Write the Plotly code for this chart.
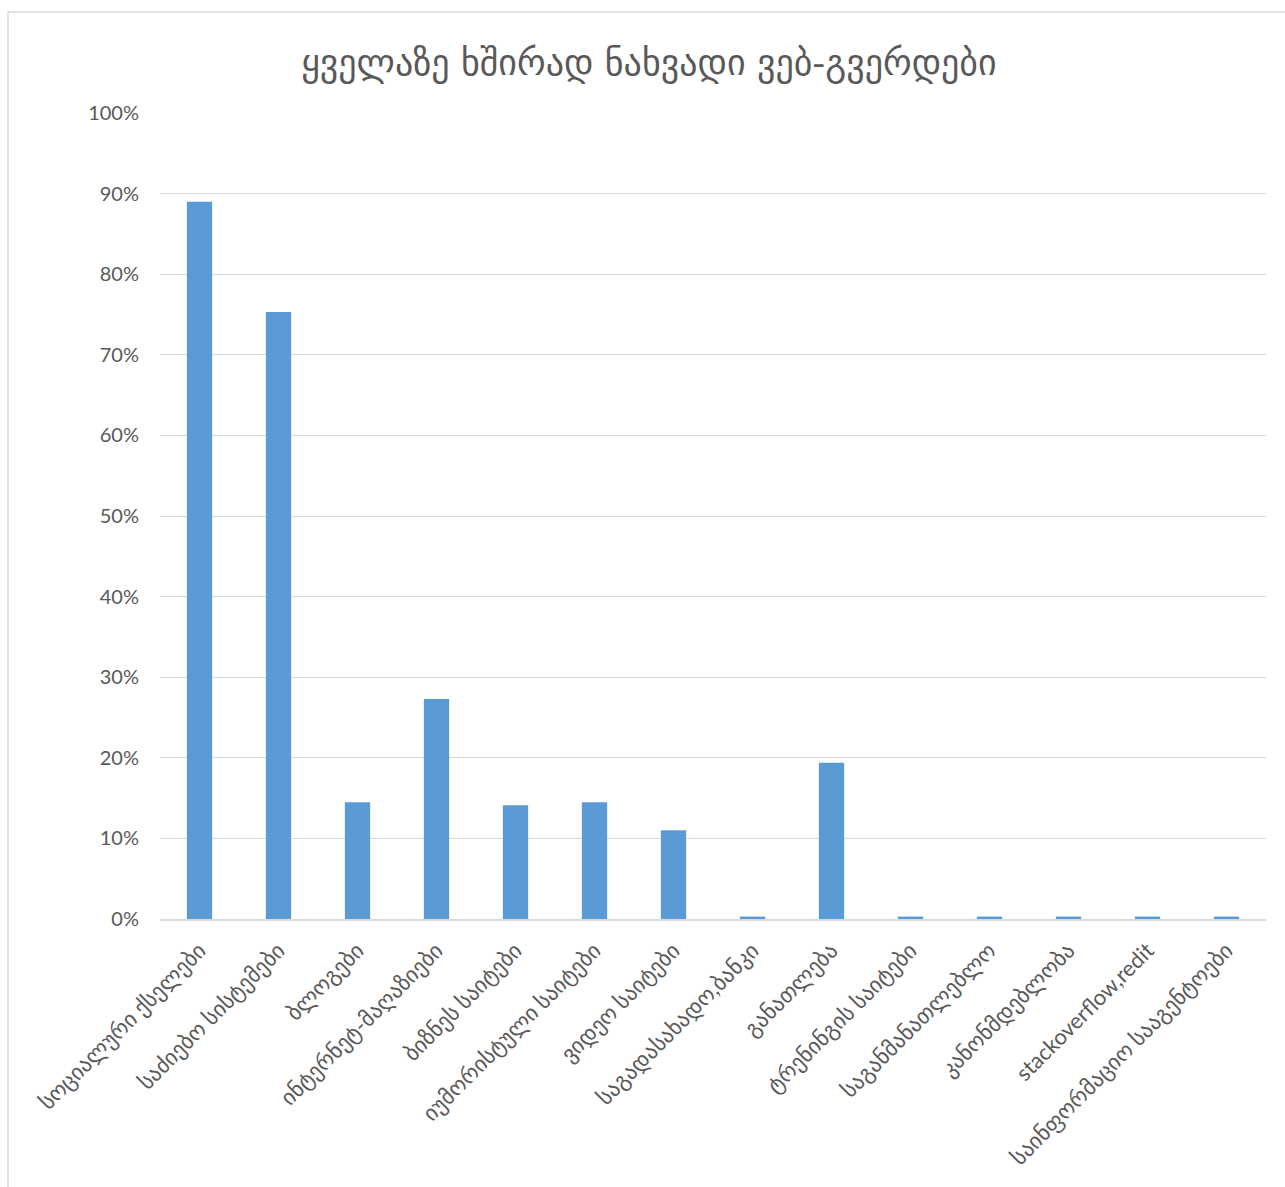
import plotly.graph_objects as go

# Share of respondents visiting each type of website (%)
categories = [
    "სოციალური ქსელები",
    "საძიებო სისტემები",
    "ბლოგები",
    "ინტერნეტ-მაღაზიები",
    "ბიზნეს საიტები",
    "იუმორისტული საიტები",
    "ვიდეო საიტები",
    "საგადასახადო,ბანკი",
    "განათლება",
    "ტრენინგის საიტები",
    "საგანმანათლებლო",
    "კანონმდებლობა",
    "stackoverflow,redit",
    "საინფორმაციო სააგენტოები",
]
values = [89.0, 75.3, 14.5, 27.3, 14.1, 14.5, 11.0, 0.3, 19.4, 0.3, 0.3, 0.3, 0.3, 0.3]
y_ticks = list(range(0, 101, 10))
y_tick_labels = [f"{v}%" for v in y_ticks]

W, H = 1285, 1187
ML, MR, MT, MB = 160, 19, 113, 268
pw, ph = W - ML - MR, H - MT - MB

fig = go.Figure(
    go.Bar(
        x=categories,
        y=values,
        marker=dict(color="#5B9BD5", line=dict(width=0)),
        hoverinfo="x+y",
    )
)

# outer chart frame (px -> paper coords)
def px_x(v):
    return (v - ML) / pw

def px_y(v):
    return 1 - (v - MT) / ph

fig.add_shape(
    type="rect", xref="paper", yref="paper",
    x0=px_x(8), x1=px_x(W + 20), y0=px_y(H + 20), y1=px_y(12),
    line=dict(color="#D9D9D9", width=1.5), fillcolor="rgba(0,0,0,0)", layer="below",
)

fig.update_layout(
    width=W, height=H,
    margin=dict(l=ML, r=MR, t=MT, b=MB),
    paper_bgcolor="white", plot_bgcolor="white",
    bargap=0.68,
    showlegend=False,
    title=dict(
        text="ყველაზე ხშირად ნახვადი ვებ-გვერდები",
        x=0.505, xanchor="center", y=1 - 62 / H, yanchor="middle",
        font=dict(family="DejaVu Sans", size=36, color="#595959"),
    ),
    font=dict(family="Lato, DejaVu Sans", color="#595959"),
    xaxis=dict(
        tickangle=-45,
        tickfont=dict(family="Lato, DejaVu Sans", size=22, color="#595959"),
        showgrid=False, showline=True, linecolor="#D9D9D9", linewidth=2,
        ticks="", ticklen=0, ticklabelstandoff=8,
    ),
    yaxis=dict(
        range=[0, 100], tickvals=y_ticks, ticktext=y_tick_labels,
        tickfont=dict(family="Lato", size=20, color="#595959"),
        showgrid=True, gridcolor="#D9D9D9", gridwidth=1,
        zeroline=False, showline=False, ticks="", ticklabelstandoff=20,
    ),
)

fig.write_html("out.html")
